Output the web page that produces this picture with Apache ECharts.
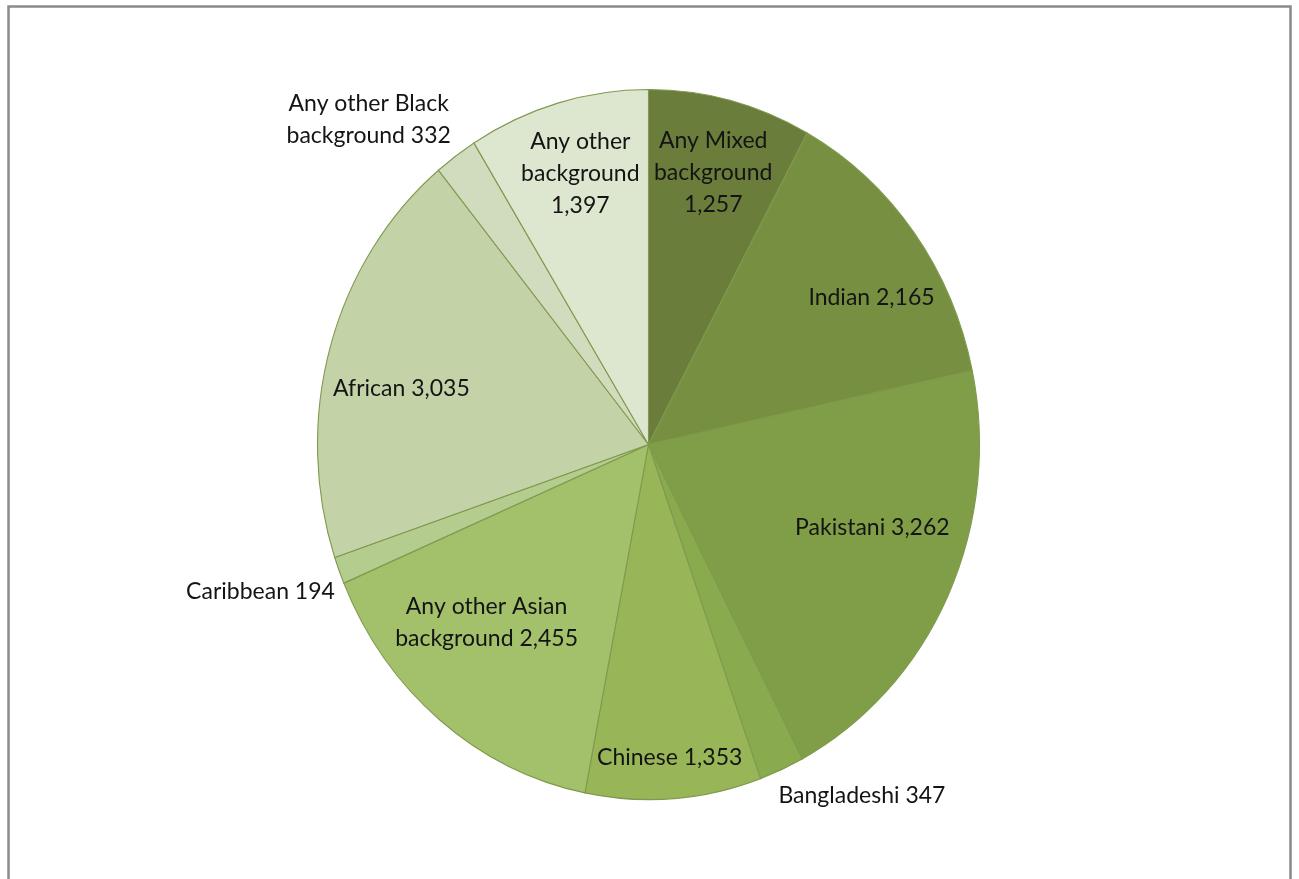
<!DOCTYPE html>
<html>
<head>
<meta charset="utf-8">
<title>Pupils by ethnic background</title>
<script src="https://cdn.jsdelivr.net/npm/echarts@6/dist/echarts.min.js"></script>
<style>
  html, body { margin: 0; padding: 0; background: #ffffff; }
  #chart { width: 1299px; height: 879px; }
</style>
</head>
<body>
<div id="chart"></div>
<script>
// Ethnic groups, clockwise from 12 o'clock
const categories = [
  'Any Mixed\nbackground',
  'Indian',
  'Pakistani',
  'Bangladeshi',
  'Chinese',
  'Any other Asian\nbackground',
  'Caribbean',
  'African',
  'Any other Black\nbackground',
  'Any other\nbackground'
];
const values = [1257, 2165, 3262, 347, 1353, 2455, 194, 3035, 332, 1397];

// Olive-green shades, darkest first
const colors = [
  '#6a7d3a', '#778f40', '#809e47', '#8aaa4e', '#98b658',
  '#a3c06b', '#b4cc8e', '#c3d3a7', '#d0dcbd', '#dde6cf'
];

// Label placement: radius as a share of the pie radius, angle shift from
// the slice's middle (degrees) and the joiner between name and value.
const labelLayout = [
  { r: 0.79, da: 0.0, sep: '\n' },
  { r: 0.79, da: 5.2, sep: ' ' },
  { r: 0.716, da: -6.0, sep: ' ' },
  { r: 1.18, da: -9.4, sep: ' ' },
  { r: 0.884, da: 0.2, sep: ' ' },
  { r: 0.70, da: 5.3, sep: ' ' },
  { r: 1.243, da: 1.35, sep: ' ' },
  { r: 0.763, da: -4.1, sep: ' ' },
  { r: 1.246, da: -7.1, sep: ' ' },
  { r: 0.79, da: 0.8, sep: '\n' }
];

// Pie geometry: a slightly tall ellipse
const CX = 648.5, CY = 444.5, RX = 331, RY = 355;
const SY = RY / RX;

const total = values.reduce((a, b) => a + b, 0);
const starts = [];
values.reduce((acc, v, i) => { starts[i] = acc; return acc + v; }, 0);

const fmt = v => v.toLocaleString('en-US');

function renderItem(params, api) {
  const i = params.dataIndex;
  const v = api.value(0);
  const a0 = starts[i] / total * 360;
  const a1 = (starts[i] + v) / total * 360;
  const toRad = d => (d - 90) * Math.PI / 180;

  const lay = labelLayout[i];
  const mid = (a0 + a1) / 2 + lay.da;
  const lr = lay.r * RX;
  const th = mid * Math.PI / 180;
  const lx = CX + lr * Math.sin(th);
  const ly = CY - lr * Math.cos(th) * SY;

  return {
    type: 'group',
    children: [
      {
        type: 'sector',
        shape: { cx: CX, cy: CY, r0: 0, r: RX, startAngle: toRad(a0), endAngle: toRad(a1), clockwise: true },
        originX: CX,
        originY: CY,
        scaleY: SY,
        style: { fill: colors[i], stroke: '#7f9a4e', lineWidth: 1.1, strokeNoScale: true }
      },
      {
        type: 'text',
        x: lx,
        y: ly,
        z2: 10,
        style: {
          text: categories[i] + lay.sep + fmt(v),
          fill: '#141414',
          fontFamily: 'Lato',
          fontSize: 23,
          lineHeight: 32,
          align: 'center',
          verticalAlign: 'middle'
        }
      }
    ]
  };
}

const chart = echarts.init(document.getElementById('chart'), null, { renderer: 'canvas' });
chart.setOption({
  animation: false,
  backgroundColor: '#ffffff',
  graphic: [
    {
      type: 'rect',
      left: 6,
      top: 4,
      shape: { x: 0, y: 0, width: 1282, height: 900 },
      style: { fill: 'none', stroke: '#8a8a8a', lineWidth: 2.5 },
      z: -1
    }
  ],
  series: [
    {
      type: 'custom',
      coordinateSystem: 'none',
      renderItem: renderItem,
      data: values.map((v, i) => ({ name: categories[i], value: [v] }))
    }
  ]
});
</script>
</body>
</html>
